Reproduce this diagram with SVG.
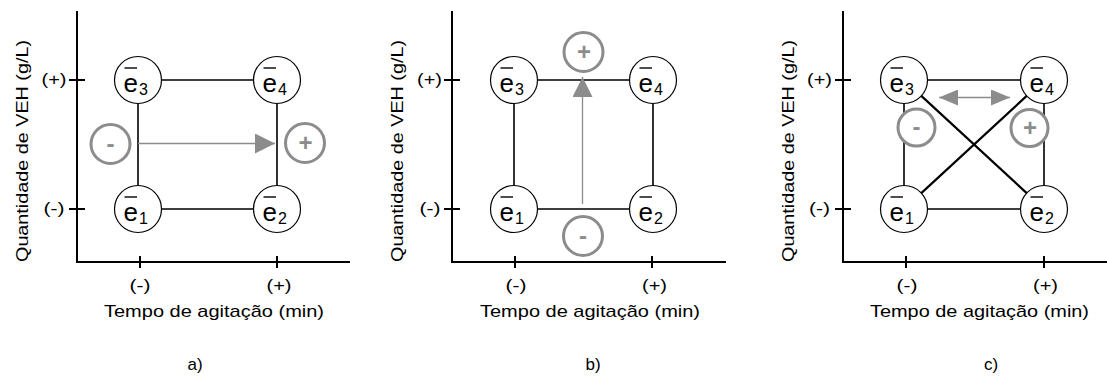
<svg xmlns="http://www.w3.org/2000/svg" width="1107" height="377" viewBox="0 0 1107 377">
<style>
text{font-family:"Liberation Sans",Arial,sans-serif;fill:#000}
.lbl{font-size:17px}
.mid{text-anchor:middle}
.axis{fill:none;stroke:#000;stroke-width:2}
.node circle{fill:#fff;stroke:#000;stroke-width:1.2}
.node .e{font-size:26px}
.node .s{font-size:16px}
.node line{stroke:#000;stroke-width:1.4}
.edge{stroke:#000;stroke-width:1.6;fill:none}
.diag{stroke:#000;stroke-width:2.2;fill:none}
.garrow{stroke:#8c8c8c;stroke-width:1.3;fill:none}
.sign circle{fill:#fff;stroke:#8c8c8c;stroke-width:3}
.sign text{font-size:24px;font-weight:bold;fill:#8c8c8c;text-anchor:middle}
</style>
<defs>
<marker id="ah" markerUnits="userSpaceOnUse" viewBox="0 0 20 20" markerWidth="20" markerHeight="20" refX="20" refY="10" orient="auto"><path d="M0,0 L20,10 L0,20 Z" fill="#8c8c8c"/></marker>
<marker id="ahs" markerUnits="userSpaceOnUse" viewBox="0 0 19 16" markerWidth="19" markerHeight="16" refX="19" refY="8" orient="auto"><path d="M0,0 L19,8 L0,16 Z" fill="#8c8c8c"/></marker>
<marker id="ahs0" markerUnits="userSpaceOnUse" viewBox="0 0 19 16" markerWidth="19" markerHeight="16" refX="0" refY="8" orient="auto"><path d="M19,0 L0,8 L19,16 Z" fill="#8c8c8c"/></marker>
</defs>

<!-- Panel a -->
<g id="panel-a">
  <g id="a-axes">
    <path class="axis" d="M77,11 V262 H350 M69,80 H85 M69,209 H85 M140,256 V268 M277,256 V268"/>
    <text class="lbl mid" x="54" y="84.5" textLength="25" lengthAdjust="spacingAndGlyphs">(+)</text>
    <text class="lbl mid" x="54" y="213.5" textLength="21" lengthAdjust="spacingAndGlyphs">(-)</text>
    <text class="lbl mid" x="140" y="290.5" textLength="21" lengthAdjust="spacingAndGlyphs">(-)</text>
    <text class="lbl mid" x="279" y="290.5" textLength="25" lengthAdjust="spacingAndGlyphs">(+)</text>
    <text class="lbl mid" x="214" y="317" textLength="220" lengthAdjust="spacingAndGlyphs">Tempo de agitação (min)</text>
    <text class="lbl mid" transform="translate(27.5,151) rotate(-90)" textLength="222" lengthAdjust="spacingAndGlyphs">Quantidade de VEH (g/L)</text>
  </g>
  <g id="a-connectors">
    <path class="edge" d="M161.5,80 H253.5 M161.5,209 H253.5 M138,103.5 V185.5 M277,103.5 V185.5"/>
    <path class="garrow" d="M138,143.5 H275" marker-end="url(#ah)"/>
  </g>
  <g id="a-e3" class="node" transform="translate(138,80)"><circle r="23.5"/><text class="e" x="-14.5" y="12">e</text><line x1="-13.5" y1="-12" x2="-1" y2="-12"/><text class="s" x="1" y="14.5">3</text></g>
  <g id="a-e4" class="node" transform="translate(277,80)"><circle r="23.5"/><text class="e" x="-14.5" y="12">e</text><line x1="-13.5" y1="-12" x2="-1" y2="-12"/><text class="s" x="1" y="14.5">4</text></g>
  <g id="a-e1" class="node" transform="translate(138,209)"><circle r="23.5"/><text class="e" x="-14.5" y="12">e</text><line x1="-13.5" y1="-12" x2="-1" y2="-12"/><text class="s" x="1" y="14.5">1</text></g>
  <g id="a-e2" class="node" transform="translate(277,209)"><circle r="23.5"/><text class="e" x="-14.5" y="12">e</text><line x1="-13.5" y1="-12" x2="-1" y2="-12"/><text class="s" x="1" y="14.5">2</text></g>
  <g id="a-minus" class="sign" transform="translate(110.5,144)"><circle r="19.5"/><text x="0" y="7.5">-</text></g>
  <g id="a-plus" class="sign" transform="translate(305,143)"><circle r="19.5"/><text x="0.5" y="8">+</text></g>
  <text class="lbl mid" x="195" y="370" font-size="16">a)</text>
</g>

<!-- Panel b -->
<g id="panel-b" transform="translate(375,0)">
  <g id="b-axes">
    <path class="axis" d="M77,11 V262 H351 M69,80 H85 M69,209 H85 M140,256 V268 M277,256 V268"/>
    <text class="lbl mid" x="54.5" y="84.5" textLength="25" lengthAdjust="spacingAndGlyphs">(+)</text>
    <text class="lbl mid" x="55" y="213.5" textLength="21" lengthAdjust="spacingAndGlyphs">(-)</text>
    <text class="lbl mid" x="141" y="290.5" textLength="21" lengthAdjust="spacingAndGlyphs">(-)</text>
    <text class="lbl mid" x="279.5" y="290.5" textLength="25" lengthAdjust="spacingAndGlyphs">(+)</text>
    <text class="lbl mid" x="215" y="317" textLength="220" lengthAdjust="spacingAndGlyphs">Tempo de agitação (min)</text>
    <text class="lbl mid" transform="translate(28,151) rotate(-90)" textLength="222" lengthAdjust="spacingAndGlyphs">Quantidade de VEH (g/L)</text>
  </g>
  <g id="b-connectors">
    <path class="edge" d="M162.5,80 H254.5 M162.5,209 H254.5 M139,103.5 V185.5 M278,103.5 V185.5"/>
    <path class="garrow" d="M207.5,204 V77" marker-end="url(#ah)"/>
  </g>
  <g id="b-e3" class="node" transform="translate(139,80)"><circle r="23.5"/><text class="e" x="-14.5" y="12">e</text><line x1="-13.5" y1="-12" x2="-1" y2="-12"/><text class="s" x="1" y="14.5">3</text></g>
  <g id="b-e4" class="node" transform="translate(278,80)"><circle r="23.5"/><text class="e" x="-14.5" y="12">e</text><line x1="-13.5" y1="-12" x2="-1" y2="-12"/><text class="s" x="1" y="14.5">4</text></g>
  <g id="b-e1" class="node" transform="translate(139,209)"><circle r="23.5"/><text class="e" x="-14.5" y="12">e</text><line x1="-13.5" y1="-12" x2="-1" y2="-12"/><text class="s" x="1" y="14.5">1</text></g>
  <g id="b-e2" class="node" transform="translate(278,209)"><circle r="23.5"/><text class="e" x="-14.5" y="12">e</text><line x1="-13.5" y1="-12" x2="-1" y2="-12"/><text class="s" x="1" y="14.5">2</text></g>
  <g id="b-plus" class="sign" transform="translate(208.5,52)"><circle r="19.5"/><text x="0.5" y="8">+</text></g>
  <g id="b-minus" class="sign" transform="translate(208,236)"><circle r="19.5"/><text x="0" y="7.5">-</text></g>
  <text class="lbl mid" x="218" y="370" font-size="16">b)</text>
</g>

<!-- Panel c -->
<g id="panel-c" transform="translate(766,0)">
  <g id="c-axes">
    <path class="axis" d="M77,11 V262 H341 M69,80 H85 M69,209 H85 M140,256 V268 M278,256 V268"/>
    <text class="lbl mid" x="53.5" y="84.5" textLength="25" lengthAdjust="spacingAndGlyphs">(+)</text>
    <text class="lbl mid" x="53.5" y="213.5" textLength="21" lengthAdjust="spacingAndGlyphs">(-)</text>
    <text class="lbl mid" x="141" y="290.5" textLength="21" lengthAdjust="spacingAndGlyphs">(-)</text>
    <text class="lbl mid" x="279.5" y="290.5" textLength="25" lengthAdjust="spacingAndGlyphs">(+)</text>
    <text class="lbl mid" x="213.5" y="317" textLength="219" lengthAdjust="spacingAndGlyphs">Tempo de agitação (min)</text>
    <text class="lbl mid" transform="translate(28,151) rotate(-90)" textLength="222" lengthAdjust="spacingAndGlyphs">Quantidade de VEH (g/L)</text>
  </g>
  <g id="c-connectors">
    <path class="edge" d="M161.5,80 H254.5 M161.5,209 H254.5 M138,103.5 V185.5 M278,103.5 V185.5"/>
    <path class="diag" d="M155.3,95.9 L260.7,193.1 M155.3,193.1 L260.7,95.9"/>
    <path class="garrow" d="M173,97.5 H244" marker-start="url(#ahs0)" marker-end="url(#ahs)"/>
  </g>
  <g id="c-e3" class="node" transform="translate(138,80)"><circle r="23.5"/><text class="e" x="-14.5" y="12">e</text><line x1="-13.5" y1="-12" x2="-1" y2="-12"/><text class="s" x="1" y="14.5">3</text></g>
  <g id="c-e4" class="node" transform="translate(278,80)"><circle r="23.5"/><text class="e" x="-14.5" y="12">e</text><line x1="-13.5" y1="-12" x2="-1" y2="-12"/><text class="s" x="1" y="14.5">4</text></g>
  <g id="c-e1" class="node" transform="translate(138,209)"><circle r="23.5"/><text class="e" x="-14.5" y="12">e</text><line x1="-13.5" y1="-12" x2="-1" y2="-12"/><text class="s" x="1" y="14.5">1</text></g>
  <g id="c-e2" class="node" transform="translate(278,209)"><circle r="23.5"/><text class="e" x="-14.5" y="12">e</text><line x1="-13.5" y1="-12" x2="-1" y2="-12"/><text class="s" x="1" y="14.5">2</text></g>
  <g id="c-minus" class="sign" transform="translate(150.5,127.5)"><circle r="18.5"/><text x="0" y="7.5">-</text></g>
  <g id="c-plus" class="sign" transform="translate(263.5,128)"><circle r="18.5"/><text x="0.5" y="8">+</text></g>
  <text class="lbl mid" x="225" y="370" font-size="16">c)</text>
</g>
</svg>
